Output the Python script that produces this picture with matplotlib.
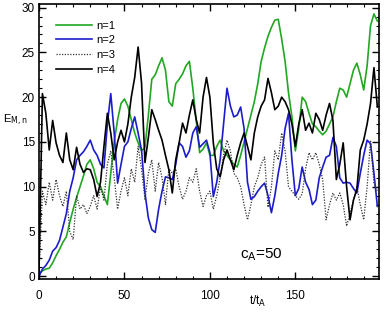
import numpy as np
import matplotlib
matplotlib.use("Agg")
import matplotlib.pyplot as plt
from matplotlib.ticker import MultipleLocator

plt.rcParams['font.family'] = ['Liberation Sans', 'DejaVu Sans']

# time axis, every 2 t_A
t = np.arange(0, 200, 2)

e_n1 = [0.3, 0.6, 0.8, 0.9, 1.5, 2.3, 3.0, 3.8, 4.4, 6.0,
        7.5, 8.8, 10.0, 11.2, 12.5, 13.0, 12.0, 10.5, 10.0, 9.0,
        8.0, 11.5, 15.0, 17.5, 19.3, 19.8, 19.0, 17.5, 16.0, 14.9,
        14.0, 14.4, 18.0, 22.0, 22.5, 23.5, 24.4, 23.0, 19.5, 19.0,
        21.5, 22.0, 22.6, 23.5, 24.0, 21.0, 17.4, 13.8, 14.2, 14.9,
        13.5, 13.5, 14.5, 15.2, 14.0, 13.5, 13.0, 12.5, 12.2, 13.5,
        15.0, 16.5, 18.0, 19.5, 21.5, 24.0, 25.5, 26.8, 27.8, 28.6,
        28.7, 26.5, 24.0, 20.5, 17.8, 14.0, 16.5, 20.0, 19.5, 18.2,
        17.0, 16.7, 16.2, 15.8, 16.2, 17.0, 17.8, 19.5, 21.0, 20.8,
        20.0, 21.5, 23.0, 23.8, 22.5, 20.8, 23.5, 28.0, 29.3, 28.5]

e_n2 = [0.0, 0.8, 1.2, 1.8, 2.8, 3.2, 4.0, 5.5, 7.0, 9.5,
        11.0, 13.0, 13.5, 13.9, 14.5, 15.2, 14.1, 13.5, 12.5, 12.1,
        17.0, 20.4, 16.0, 10.4, 12.5, 14.5, 15.0, 16.5, 17.8, 16.0,
        14.1, 9.3, 6.5, 5.2, 4.9, 7.5, 9.5, 11.1, 11.0, 10.8,
        12.5, 14.9, 14.5, 13.3, 14.0, 16.0, 16.7, 14.4, 14.8, 15.2,
        13.8, 8.9, 10.5, 13.0, 17.0, 21.0, 19.0, 17.8, 18.0, 18.9,
        16.5, 10.5, 8.6, 8.9, 9.5, 10.0, 10.4, 9.0, 7.1, 9.0,
        11.5, 13.5, 16.5, 18.2, 13.0, 9.0, 9.8, 12.2, 10.5, 9.7,
        8.0, 8.5, 11.0, 12.2, 13.3, 13.5, 15.5, 14.5, 11.0, 10.4,
        10.5, 10.4, 9.8, 9.3, 11.5, 13.5, 15.2, 14.8, 11.5, 7.8]

e_n3 = [0.5, 9.5, 8.0, 10.5, 8.5, 10.8, 9.0, 7.8, 9.5, 5.0,
        4.1, 9.0, 7.5, 8.0, 7.0, 7.8, 9.0, 7.5, 10.0, 8.5,
        12.5, 14.0, 11.0, 7.5, 9.5, 11.0, 9.0, 12.0, 10.5, 14.5,
        12.0, 8.6, 11.5, 13.0, 9.5, 12.7, 11.0, 8.0, 12.0, 11.5,
        12.0, 10.0, 8.6, 9.5, 11.0, 10.5, 12.0, 9.5, 7.8, 9.0,
        9.5, 7.5, 9.0, 11.0, 13.5, 15.2, 14.0, 11.5, 11.0, 10.0,
        8.0, 6.3, 8.0, 10.0, 11.0, 12.5, 13.3, 7.7, 10.0, 14.0,
        13.0, 16.0, 14.0, 10.0, 9.5, 9.0, 8.6, 9.2, 12.0, 13.8,
        13.0, 13.8, 12.5, 10.8, 6.3, 8.0, 9.3, 8.5, 9.3, 8.0,
        5.6, 7.0, 8.5, 10.0, 8.0, 6.3, 10.0, 15.2, 10.4, 9.5]

e_n4 = [0.5, 20.4, 18.2, 14.1, 17.4, 14.9, 13.5, 12.7, 16.0, 13.0,
        11.9, 14.4, 12.5, 11.6, 12.0, 11.9, 10.8, 8.9, 10.5, 14.5,
        18.2, 16.0, 13.0, 15.0, 16.3, 15.0, 17.0, 20.0, 22.2, 25.6,
        21.6, 12.7, 15.5, 18.6, 17.5, 16.3, 15.2, 13.5, 11.9, 9.3,
        13.0, 14.9, 17.1, 16.0, 18.0, 19.7, 17.5, 16.0, 20.0, 22.2,
        20.0, 14.9, 12.0, 11.1, 13.0, 14.1, 13.0, 11.9, 13.5, 14.9,
        16.0, 14.5, 13.0, 16.0, 17.8, 19.0, 19.7, 22.1, 20.5, 18.6,
        19.0, 20.0, 19.5, 18.6, 17.0, 14.5, 17.0, 18.6, 16.3, 17.1,
        16.0, 18.2, 17.5, 16.3, 18.0, 19.3, 17.4, 10.8, 12.5, 14.9,
        10.0, 6.3, 8.5, 9.7, 14.1, 15.2, 17.0, 19.3, 23.3, 18.9]

fig = plt.figure(figsize=(3.9, 3.12), dpi=100)
ax = fig.add_axes([0.1, 0.106, 0.872, 0.881])

ax.plot(t, e_n1, color='#22a722', lw=1.2, label='n=1')
ax.plot(t, e_n2, color='#1c1ccc', lw=1.2, label='n=2')
ax.plot(t, e_n3, color='#333333', lw=0.9, ls=(0, (1, 1.2)), label='n=3')
ax.plot(t, e_n4, color='black', lw=1.2, label='n=4')

ax.set_xlim(0, 199)
ax.set_ylim(-0.3, 30.4)
ax.xaxis.set_major_locator(MultipleLocator(50))
ax.xaxis.set_minor_locator(MultipleLocator(10))
ax.yaxis.set_major_locator(MultipleLocator(5))
ax.yaxis.set_minor_locator(MultipleLocator(1))
ax.tick_params(which='both', direction='in', top=True, right=True, labelsize=8.5)
ax.tick_params(which='major', length=5, width=1)
ax.tick_params(which='minor', length=2.5, width=0.8)
ax.tick_params(axis='x', pad=8)
ax.tick_params(axis='y', pad=3)
for s in ax.spines.values():
    s.set_linewidth(1.2)

leg = ax.legend(loc='upper left', bbox_to_anchor=(0.05, 0.94), frameon=False,
                fontsize=8, handlelength=3.2, handletextpad=0.45,
                labelspacing=0.42, borderpad=0, borderaxespad=0)

fig.text(3 / 390, 1 - 120 / 312, r'E$_{\rm M,n}$', fontsize=8, va='center', ha='left')
fig.text(258 / 390, 1 - 301 / 312, r't/t$_{\rm A}$', fontsize=8.5, va='center', ha='center')
ax.text(0.653, 0.087, r'c$_{\rm A}$=50', transform=ax.transAxes, fontsize=11,
        va='center', ha='center')

fig.savefig('out.png', dpi=100)
